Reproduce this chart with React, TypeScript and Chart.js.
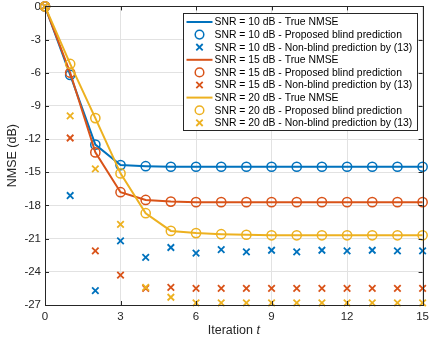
import React, { useEffect, useRef } from "react";
import { Chart, registerables } from "chart.js";

Chart.register(...registerables);

const iterations = [0, 1, 2, 3, 4, 5, 6, 7, 8, 9, 10, 11, 12, 13, 14, 15];

const snr10True = [0, -6.2, -12.5, -14.35, -14.45, -14.5, -14.5, -14.5, -14.5, -14.5, -14.5, -14.5, -14.5, -14.5, -14.5, -14.5];
const snr10Blind = [0, -6.2, -12.5, -14.35, -14.45, -14.5, -14.5, -14.5, -14.5, -14.5, -14.5, -14.5, -14.5, -14.5, -14.5, -14.5];
const snr10NonBlind = [0, -17.1, -25.7, -21.2, -22.7, -21.8, -22.3, -22.0, -22.2, -22.05, -22.2, -22.05, -22.1, -22.05, -22.1, -22.1];

const snr15True = [0, -6.0, -13.2, -16.8, -17.5, -17.65, -17.7, -17.7, -17.7, -17.7, -17.7, -17.7, -17.7, -17.7, -17.7, -17.7];
const snr15Blind = [0, -6.0, -13.2, -16.8, -17.5, -17.65, -17.7, -17.7, -17.7, -17.7, -17.7, -17.7, -17.7, -17.7, -17.7, -17.7];
const snr15NonBlind = [0, -11.9, -22.1, -24.3, -25.5, -25.4, -25.5, -25.5, -25.5, -25.5, -25.5, -25.5, -25.5, -25.5, -25.5, -25.5];

const snr20True = [0, -5.2, -10.1, -15.1, -18.7, -20.3, -20.5, -20.6, -20.65, -20.7, -20.7, -20.7, -20.7, -20.7, -20.7, -20.7];
const snr20Blind = [0, -5.2, -10.1, -15.1, -18.7, -20.3, -20.5, -20.6, -20.65, -20.7, -20.7, -20.7, -20.7, -20.7, -20.7, -20.7];
const snr20NonBlind = [0, -9.9, -14.7, -19.7, -25.4, -26.3, -26.8, -26.8, -26.8, -26.8, -26.8, -26.8, -26.8, -26.8, -26.8, -26.8];

const seriesLabels = [
  "SNR = 10 dB - True NMSE",
  "SNR = 10 dB - Proposed blind prediction",
  "SNR = 10 dB - Non-blind prediction by (13)",
  "SNR = 15 dB - True NMSE",
  "SNR = 15 dB - Proposed blind prediction",
  "SNR = 15 dB - Non-blind prediction by (13)",
  "SNR = 20 dB - True NMSE",
  "SNR = 20 dB - Proposed blind prediction",
  "SNR = 20 dB - Non-blind prediction by (13)",
];

const xTicks = [0, 3, 6, 9, 12, 15];
const yTicks = [0, -3, -6, -9, -12, -15, -18, -21, -24, -27];

const BLUE = "#0072BD";
const RED = "#D95319";
const YELLOW = "#EDB120";
const FONT = "'Liberation Sans', Arial, Helvetica, sans-serif";
const AXIS = "#262626";

const toPts = (ys: number[]) => ys.map((y, i) => ({ x: iterations[i], y }));

const zeroPad = (s: any) => {
  s.paddingTop = 0;
  s.paddingBottom = 0;
  s.paddingLeft = 0;
  s.paddingRight = 0;
};

export default function App() {
  const ref = useRef<HTMLCanvasElement | null>(null);

  useEffect(() => {
    document.body.style.margin = "0";
    const canvas = ref.current;
    if (!canvas) return;

    const series = [
      { data: snr10True, color: BLUE, kind: "line" },
      { data: snr10Blind, color: BLUE, kind: "circle" },
      { data: snr10NonBlind, color: BLUE, kind: "cross" },
      { data: snr15True, color: RED, kind: "line" },
      { data: snr15Blind, color: RED, kind: "circle" },
      { data: snr15NonBlind, color: RED, kind: "cross" },
      { data: snr20True, color: YELLOW, kind: "line" },
      { data: snr20Blind, color: YELLOW, kind: "circle" },
      { data: snr20NonBlind, color: YELLOW, kind: "cross" },
    ];

    const datasets = series.map((s, i) => {
      const base: any = {
        label: seriesLabels[i],
        data: toPts(s.data),
        borderColor: s.color,
        backgroundColor: s.color,
        clip: false,
        order: 20 - i,
        kind: s.kind,
      };
      if (s.kind === "line") {
        return { ...base, showLine: true, borderWidth: 2, pointRadius: 0, tension: 0 };
      }
      if (s.kind === "circle") {
        return {
          ...base,
          showLine: false,
          pointStyle: "circle",
          pointRadius: 4.6,
          pointBorderWidth: 1.5,
          pointBackgroundColor: "rgba(0,0,0,0)",
          pointBorderColor: s.color,
        };
      }
      return {
        ...base,
        showLine: false,
        pointStyle: "crossRot",
        pointRadius: 4.6,
        pointBorderWidth: 1.8,
        pointBorderColor: s.color,
      };
    });

    const framePlugin = {
      id: "frame",
      afterDraw(chart: any) {
        const { ctx, chartArea: ca, scales } = chart;
        const xs = scales.x;
        const ys = scales.y;
        ctx.save();
        // box
        ctx.strokeStyle = AXIS;
        ctx.lineWidth = 1;
        ctx.strokeRect(Math.round(ca.left) + 0.5, Math.round(ca.top) + 0.5, Math.round(ca.right - ca.left), Math.round(ca.bottom - ca.top));
        // inward ticks
        const tl = 4;
        ctx.beginPath();
        xTicks.forEach((v) => {
          const px = Math.round(xs.getPixelForValue(v)) + 0.5;
          ctx.moveTo(px, ca.bottom);
          ctx.lineTo(px, ca.bottom - tl);
          ctx.moveTo(px, ca.top);
          ctx.lineTo(px, ca.top + tl);
        });
        yTicks.forEach((v) => {
          const py = Math.round(ys.getPixelForValue(v)) + 0.5;
          ctx.moveTo(ca.left, py);
          ctx.lineTo(ca.left + tl, py);
          ctx.moveTo(ca.right, py);
          ctx.lineTo(ca.right - tl, py);
        });
        ctx.stroke();

        // axis titles
        ctx.fillStyle = AXIS;
        ctx.textBaseline = "middle";
        const cx = (ca.left + ca.right) / 2;
        ctx.font = `12.5px ${FONT}`;
        const w1 = ctx.measureText("Iteration ").width;
        ctx.font = `italic 12.5px ${FONT}`;
        const w2 = ctx.measureText("t").width;
        const startX = cx - (w1 + w2) / 2;
        ctx.textAlign = "left";
        ctx.font = `12.5px ${FONT}`;
        ctx.fillText("Iteration ", startX, 331);
        ctx.font = `italic 12.5px ${FONT}`;
        ctx.fillText("t", startX + w1, 331);

        ctx.save();
        ctx.translate(13, (ca.top + ca.bottom) / 2);
        ctx.rotate(-Math.PI / 2);
        ctx.textAlign = "center";
        ctx.font = `12.5px ${FONT}`;
        ctx.fillText("NMSE (dB)", 0, 0);
        ctx.restore();

        // legend
        const rowH = 12.6;
        const boxW = 234;
        const boxH = 117;
        const bx = Math.round(ca.right - 6 - boxW) + 0.5;
        const by = Math.round(ca.top + 7) + 0.5;
        ctx.fillStyle = "#ffffff";
        ctx.fillRect(bx, by, boxW, boxH);
        ctx.strokeStyle = AXIS;
        ctx.lineWidth = 1;
        ctx.strokeRect(bx, by, boxW, boxH);
        chart.data.datasets.forEach((ds: any, i: number) => {
          const cy = by + 8.5 + rowH * i;
          const sx0 = bx + 3;
          const sx1 = bx + 29;
          const mx = (sx0 + sx1) / 2;
          ctx.strokeStyle = ds.borderColor;
          if (ds.kind === "line") {
            ctx.lineWidth = 2;
            ctx.beginPath();
            ctx.moveTo(sx0, cy);
            ctx.lineTo(sx1, cy);
            ctx.stroke();
          } else if (ds.kind === "circle") {
            ctx.lineWidth = 1.5;
            ctx.beginPath();
            ctx.arc(mx, cy, 4.3, 0, Math.PI * 2);
            ctx.stroke();
          } else {
            ctx.lineWidth = 1.8;
            const d = 3.2;
            ctx.beginPath();
            ctx.moveTo(mx - d, cy - d);
            ctx.lineTo(mx + d, cy + d);
            ctx.moveTo(mx - d, cy + d);
            ctx.lineTo(mx + d, cy - d);
            ctx.stroke();
          }
          ctx.fillStyle = "#000000";
          ctx.textAlign = "left";
          ctx.textBaseline = "middle";
          ctx.font = `10.4px ${FONT}`;
          ctx.fillText(ds.label, bx + 31, cy + 0.5);
        });
        ctx.restore();
      },
    };

    const chart = new Chart(canvas, {
      type: "scatter",
      data: { datasets },
      options: {
        animation: false,
        responsive: false,
        maintainAspectRatio: false,
        layout: { padding: { top: 6, right: 6, left: 0, bottom: 0 } },
        plugins: { legend: { display: false }, tooltip: { enabled: false } },
        scales: {
          x: {
            type: "linear",
            min: 0,
            max: 15,
            afterBuildTicks: (s: any) => {
              s.ticks = xTicks.map((v) => ({ value: v }));
            },
            afterFit: (s: any) => {
              s.height = 36;
              zeroPad(s);
            },
            ticks: { font: { family: FONT, size: 11.5 }, color: AXIS, padding: 5, maxRotation: 0 },
            grid: { color: "#e2e2e2", drawTicks: false, lineWidth: 1 },
            border: { display: false },
          },
          y: {
            type: "linear",
            min: -27,
            max: 0,
            afterBuildTicks: (s: any) => {
              s.ticks = yTicks.map((v) => ({ value: v }));
            },
            afterFit: (s: any) => {
              s.width = 45;
              zeroPad(s);
            },
            ticks: { font: { family: FONT, size: 11.5 }, color: AXIS, padding: 4 },
            grid: { color: "#e2e2e2", drawTicks: false, lineWidth: 1 },
            border: { display: false },
          },
        },
      },
      plugins: [framePlugin],
    } as any);

    return () => chart.destroy();
  }, []);

  return (
    <div style={{ width: 429, height: 341 }}>
      <canvas ref={ref} width={429} height={341} style={{ display: "block" }} />
    </div>
  );
}
